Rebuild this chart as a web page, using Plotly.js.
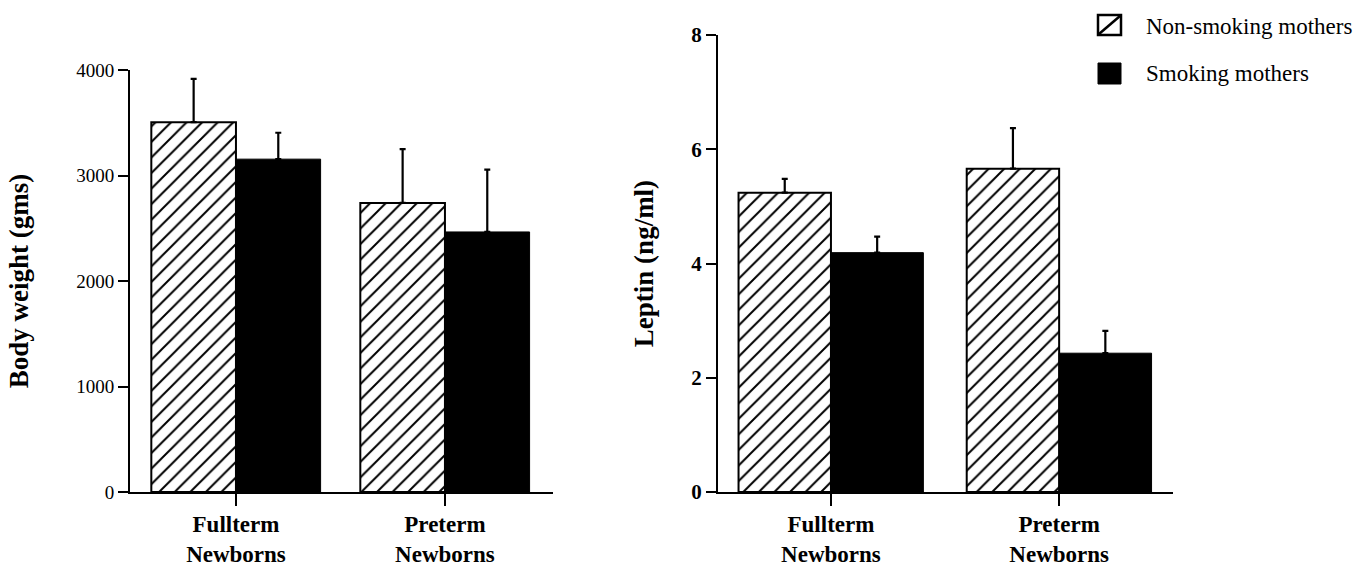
<!DOCTYPE html>
<html>
<head>
<meta charset="utf-8">
<script src="https://cdn.plot.ly/plotly-3.0.1.min.js"></script>
<style>html,body{margin:0;padding:0;background:#fff;}#chart{width:1371px;height:568px;}</style>
</head>
<body>
<div id="chart"></div>
<script>
// ---- data ----
const categories = ["Fullterm<br>Newborns", "Preterm<br>Newborns"];
const seriesNames = ["Non-smoking mothers", "Smoking mothers"];

const bodyWeightNonSmoking = [3505, 2740];
const bodyWeightNonSmokingErr = [410, 510];
const bodyWeightSmoking = [3155, 2465];
const bodyWeightSmokingErr = [250, 590];

const leptinNonSmoking = [5.24, 5.66];
const leptinNonSmokingErr = [0.24, 0.71];
const leptinSmoking = [4.19, 2.43];
const leptinSmokingErr = [0.28, 0.39];

const leftTicks = [0, 1000, 2000, 3000, 4000];
const rightTicks = [0, 2, 4, 6, 8];

// ---- helpers ----
const W = 1371, H = 568;
const px = v => v / W;
const py = v => 1 - v / H;
const serif = "Liberation Serif, Times New Roman, serif";
const zeros = a => a.map(() => 0);

function hatchTrace(x, y, err, xa, ya, name) {
  return {
    type: "bar", x: x, y: y, name: name, xaxis: xa, yaxis: ya, showlegend: false,
    marker: {
      color: "white",
      pattern: {shape: "/", fgcolor: "black", bgcolor: "white", size: 11, solidity: 0.18},
      line: {color: "black", width: 2}
    },
    error_y: {type: "data", symmetric: false, array: err, arrayminus: zeros(err),
              color: "black", thickness: 2.2, width: 3}
  };
}
function solidTrace(x, y, err, xa, ya, name) {
  return {
    type: "bar", x: x, y: y, name: name, xaxis: xa, yaxis: ya, showlegend: false,
    marker: {color: "black", line: {color: "black", width: 1}},
    error_y: {type: "data", symmetric: false, array: err, arrayminus: zeros(err),
              color: "black", thickness: 2.2, width: 3}
  };
}

const data = [
  hatchTrace(categories, bodyWeightNonSmoking, bodyWeightNonSmokingErr, "x", "y", seriesNames[0]),
  solidTrace(categories, bodyWeightSmoking, bodyWeightSmokingErr, "x", "y", seriesNames[1]),
  hatchTrace(categories, leptinNonSmoking, leptinNonSmokingErr, "x2", "y2", seriesNames[0]),
  solidTrace(categories, leptinSmoking, leptinSmokingErr, "x2", "y2", seriesNames[1])
];

const xCommon = {
  type: "category", showline: true, linecolor: "black", linewidth: 2,
  ticks: "outside", ticklen: 12, tickwidth: 2, tickcolor: "black",
  showgrid: false, zeroline: false, fixedrange: true, ticklabelstandoff: -2,
  tickfont: {family: serif, size: 23, color: "black", weight: "bold"}
};
const yCommon = {
  showline: true, linecolor: "black", linewidth: 2,
  ticks: "outside", ticklen: 10, tickwidth: 2, tickcolor: "black",
  showgrid: false, zeroline: false, fixedrange: true
};

const layout = {
  width: W, height: H,
  margin: {l: 0, r: 0, t: 0, b: 0},
  paper_bgcolor: "white", plot_bgcolor: "white",
  barmode: "group", bargap: 0.19, bargroupgap: 0,
  showlegend: false,
  xaxis: Object.assign({}, xCommon, {domain: [px(130), px(553)], range: [-0.507, 1.517], anchor: "y"}),
  yaxis: Object.assign({}, yCommon, {
    domain: [py(492), py(70)], range: [0, 4000], tickvals: leftTicks, anchor: "x",
    tickfont: {family: serif, size: 19, color: "black"},
    title: {text: "Body weight (gms)", standoff: 40,
            font: {family: serif, size: 27, color: "black", weight: "bold"}}
  }),
  xaxis2: Object.assign({}, xCommon, {domain: [px(718), px(1173)], range: [-0.495, 1.499], anchor: "y2"}),
  yaxis2: Object.assign({}, yCommon, {
    domain: [py(492), py(35)], range: [0, 8], tickvals: rightTicks, anchor: "x2",
    tickfont: {family: serif, size: 21, color: "black", weight: "bold"},
    title: {text: "Leptin (ng/ml)", standoff: 30,
            font: {family: serif, size: 27, color: "black", weight: "bold"}}
  }),
  shapes: [
    // legend key: hatched square
    {type: "rect", xref: "paper", yref: "paper", x0: px(1098), x1: px(1121), y0: py(35), y1: py(15),
     fillcolor: "white", line: {color: "black", width: 2.5}},
    {type: "line", xref: "paper", yref: "paper", x0: px(1099), x1: px(1120), y0: py(34), y1: py(16),
     line: {color: "black", width: 2.5}},
    // legend key: solid square
    {type: "rect", xref: "paper", yref: "paper", x0: px(1098), x1: px(1121), y0: py(84), y1: py(63),
     fillcolor: "black", line: {color: "black", width: 1}}
  ],
  annotations: [
    {xref: "paper", yref: "paper", x: px(1144), y: py(26), xanchor: "left", yanchor: "middle",
     text: seriesNames[0], showarrow: false, font: {family: serif, size: 23, color: "black"}},
    {xref: "paper", yref: "paper", x: px(1144), y: py(74), xanchor: "left", yanchor: "middle",
     text: seriesNames[1], showarrow: false, font: {family: serif, size: 23, color: "black"}}
  ]
};

Plotly.newPlot("chart", data, layout, {displayModeBar: false, staticPlot: true});
</script>
</body>
</html>
